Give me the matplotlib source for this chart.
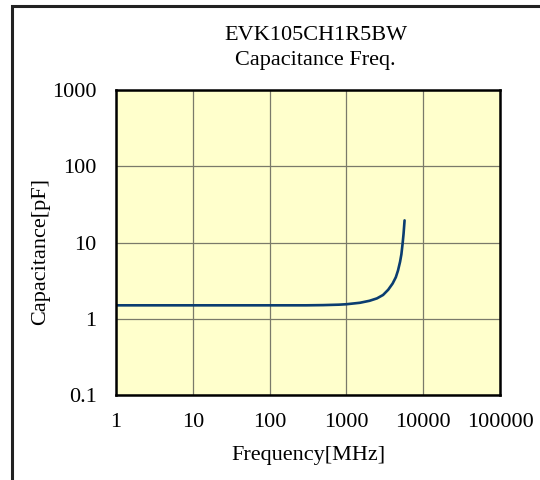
import numpy as np
import matplotlib
matplotlib.use('Agg')
import matplotlib.pyplot as plt
from matplotlib.patches import Rectangle
from matplotlib.ticker import FixedLocator, FixedFormatter, NullLocator

# values
freq = [1, 10, 100, 300, 500, 800, 1000, 1500, 2000, 2500, 3000, 3500,
        4000, 4400, 4700, 5000, 5200, 5400, 5550, 5650, 5720]
cap = [1.5, 1.5, 1.5, 1.5, 1.51, 1.53, 1.55, 1.62, 1.72, 1.85, 2.05, 2.4,
       2.9, 3.5, 4.3, 5.6, 7.0, 9.8, 13.0, 16.5, 19.5]

xticks = [1, 10, 100, 1000, 10000, 100000]
xticklabels = ['1', '10', '100', '1000', '10000', '100000']
yticks = [0.1, 1, 10, 100, 1000]
yticklabels = ['0.1', '1', '10', '100', '1000']

title = 'EVK105CH1R5BW\nCapacitance Freq.'
xtit = 'Frequency[MHz]'
ytit = 'Capacitance[pF]'

plt.rcParams.update({'font.family': 'Liberation Serif', 'font.size': 16})

fig = plt.figure(figsize=(5.4, 4.8), dpi=100)

# outer frame, runs off the right and bottom edge
fig.patches.append(Rectangle((12/540, -0.1), 1.0, 1.1 - 6/480, transform=fig.transFigure,
                             fill=False, edgecolor='#222222', linewidth=2.2))

ax = fig.add_axes([116/540, 1-395/480, 384/540, 305/480])
ax.set_facecolor('#FFFFCC')
ax.set_xscale('log')
ax.set_yscale('log')
ax.set_xlim(1, 100000)
ax.set_ylim(0.1, 1000)

ax.plot(freq, cap, color='#0B3D70', linewidth=1.9, solid_capstyle='round')

ax.xaxis.set_major_locator(FixedLocator(xticks))
ax.xaxis.set_major_formatter(FixedFormatter(xticklabels))
ax.yaxis.set_major_locator(FixedLocator(yticks))
ax.yaxis.set_major_formatter(FixedFormatter(yticklabels))
ax.xaxis.set_minor_locator(NullLocator())
ax.yaxis.set_minor_locator(NullLocator())
ax.tick_params(length=0, labelsize=16)
ax.tick_params(axis='x', pad=13)
ax.tick_params(axis='y', pad=14)
ax.grid(True, color='#7a7a6a', linewidth=0.9)
for s in ax.spines.values():
    s.set_linewidth(1.8)
    s.set_color('black')

ax.set_xlabel(xtit, fontsize=16, labelpad=10)
ax.set_ylabel(ytit, fontsize=16)
ax.yaxis.set_label_coords(-0.172, 0.472)
ax.set_title(title, fontsize=16, pad=18, linespacing=1.4, x=0.52)

plt.savefig('out.png', dpi=100)
